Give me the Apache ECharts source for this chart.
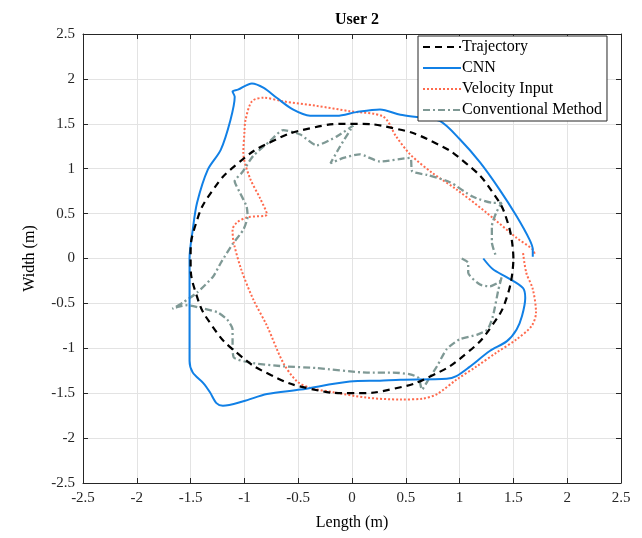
<!DOCTYPE html>
<html>
<head>
<meta charset="utf-8">
<script src="https://cdn.jsdelivr.net/npm/echarts@6/dist/echarts.min.js"></script>
<style>
  html, body { margin: 0; padding: 0; background: #fff; }
  #chart { width: 642px; height: 538px; }
</style>
</head>
<body>
<div id="chart"></div>
<script>
// tick labels
const xTicks = [-2.5, -2, -1.5, -1, -0.5, 0, 0.5, 1, 1.5, 2, 2.5];
const yTicks = [-2.5, -2, -1.5, -1, -0.5, 0, 0.5, 1, 1.5, 2, 2.5];

// reference trajectory (circle, radius ~1.5)
const trajectory = [
  [1.5, 0], [1.45, 0.39], [1.3, 0.75], [1.06, 1.06], [0.75, 1.3], [0.39, 1.45],
  [0, 1.5], [-0.39, 1.45], [-0.75, 1.3], [-1.06, 1.06], [-1.3, 0.75], [-1.45, 0.39],
  [-1.5, 0], [-1.45, -0.39], [-1.3, -0.75], [-1.06, -1.06], [-0.75, -1.3], [-0.39, -1.45],
  [0, -1.5], [0.39, -1.45], [0.75, -1.3], [1.06, -1.06], [1.3, -0.75], [1.45, -0.39],
  [1.5, 0]
];

const cnn = [
  [1.22, 0.0], [1.31, -0.12], [1.44, -0.21], [1.59, -0.33], [1.61, -0.44], [1.58, -0.64],
  [1.53, -0.79], [1.44, -0.92], [1.28, -1.03], [1.09, -1.21], [0.97, -1.31], [0.88, -1.34],
  [0.45, -1.35], [0.26, -1.36], [-0.02, -1.37], [-0.48, -1.46], [-0.79, -1.51], [-1.01, -1.59],
  [-1.2, -1.64], [-1.26, -1.61], [-1.32, -1.49], [-1.38, -1.39], [-1.48, -1.27], [-1.51, -1.14],
  [-1.51, -0.5], [-1.51, 0], [-1.48, 0.32], [-1.44, 0.62], [-1.34, 0.99], [-1.22, 1.21],
  [-1.13, 1.54], [-1.09, 1.8], [-1.11, 1.86], [-1.06, 1.88], [-0.93, 1.95], [-0.82, 1.9],
  [-0.7, 1.79], [-0.55, 1.66], [-0.39, 1.59], [-0.14, 1.59], [0.04, 1.63], [0.26, 1.66],
  [0.45, 1.6], [0.63, 1.57], [0.82, 1.53], [1.0, 1.33], [1.19, 1.07], [1.37, 0.77],
  [1.53, 0.47], [1.65, 0.21], [1.68, 0.1], [1.68, 0.02]
];

const velocityInput = [
  [1.59, 0.06], [1.62, -0.16], [1.68, -0.34], [1.71, -0.6], [1.67, -0.75], [1.53, -0.9],
  [1.34, -1.05], [1.16, -1.2], [0.97, -1.35], [0.79, -1.51], [0.66, -1.56], [0.45, -1.57],
  [0.14, -1.55], [-0.17, -1.49], [-0.39, -1.44], [-0.51, -1.37], [-0.64, -1.16], [-0.79, -0.75],
  [-0.92, -0.45], [-1.03, -0.12], [-1.1, 0.18], [-1.11, 0.32], [-1.07, 0.4], [-0.97, 0.46],
  [-0.79, 0.49], [-0.85, 0.66], [-0.95, 0.9], [-1.01, 1.18], [-1.0, 1.4], [-0.99, 1.54],
  [-0.93, 1.75], [-0.82, 1.79], [-0.64, 1.75], [-0.33, 1.7], [-0.02, 1.64], [0.29, 1.58],
  [0.41, 1.36], [0.54, 1.16], [0.75, 0.95], [0.97, 0.77], [1.25, 0.51], [1.53, 0.23],
  [1.68, 0.1], [1.7, 0.04]
];

const conventional = [
  [1.02, 0.0], [1.08, -0.05], [1.08, -0.16], [1.19, -0.29], [1.28, -0.31], [1.37, -0.26],
  [1.39, -0.21], [1.36, -0.35], [1.31, -0.64], [1.26, -0.79], [1.16, -0.85], [1.0, -0.9],
  [0.88, -1.01], [0.79, -1.2], [0.71, -1.35], [0.65, -1.46], [0.62, -1.33], [0.54, -1.29],
  [0.38, -1.27], [0.14, -1.27], [-0.33, -1.22], [-0.64, -1.2], [-0.95, -1.16], [-1.1, -1.1],
  [-1.11, -0.94], [-1.11, -0.79], [-1.16, -0.68], [-1.25, -0.6], [-1.41, -0.55], [-1.53, -0.52],
  [-1.62, -0.54], [-1.67, -0.56], [-1.57, -0.49], [-1.44, -0.38], [-1.29, -0.2], [-1.22, -0.05],
  [-1.11, 0.16], [-1.01, 0.32], [-0.97, 0.47], [-0.98, 0.58], [-1.04, 0.73], [-1.09, 0.86],
  [-1.02, 0.96], [-0.92, 1.14], [-0.76, 1.31], [-0.64, 1.43], [-0.48, 1.38], [-0.33, 1.26],
  [-0.14, 1.36], [0.01, 1.48], [-0.11, 1.25], [-0.2, 1.06], [-0.08, 1.12], [0.07, 1.16],
  [0.26, 1.08], [0.54, 1.12], [0.56, 0.97], [0.7, 0.93], [0.91, 0.85], [1.12, 0.69],
  [1.31, 0.62], [1.39, 0.62], [1.34, 0.51], [1.3, 0.36], [1.3, 0.18], [1.34, 0.02]
];

const serif = 'Liberation Serif';
const axisColor = '#262626';

const chart = echarts.init(document.getElementById('chart'));

const baseAxis = {
  type: 'value',
  min: -2.5,
  max: 2.5,
  interval: 0.5,
  axisLine: { show: true, onZero: false, lineStyle: { color: axisColor, width: 1 } },
  axisTick: { show: true, inside: true, length: 5, lineStyle: { color: axisColor } },
  splitLine: { show: false }
};

chart.setOption({
  backgroundColor: '#fff',
  animation: false,
  title: {
    text: 'User 2',
    left: 352,
    top: 7,
    textAlign: 'center',
    textStyle: { fontFamily: serif, fontWeight: 'bold', fontSize: 16, color: '#000' }
  },
  legend: {
    orient: 'vertical',
    left: 418,
    top: 36,
    padding: [3, 5, 3, 4],
    itemGap: 5,
    itemWidth: 38,
    itemHeight: 14,
    borderColor: axisColor,
    borderWidth: 1,
    backgroundColor: '#fff',
    itemStyle: { opacity: 0 },
    textStyle: { fontFamily: serif, fontSize: 16, color: '#000', lineHeight: 16, padding: [0, 0, 0, -4] },
    data: ['Trajectory', 'CNN', 'Velocity Input', 'Conventional Method']
  },
  grid: { left: 83, right: 21, top: 34, bottom: 55 },
  xAxis: [
    Object.assign({}, baseAxis, {
      position: 'bottom',
      name: 'Length (m)',
      nameLocation: 'middle',
      nameGap: 32,
      nameTextStyle: { fontFamily: serif, fontSize: 16, color: '#000' },
      splitLine: { show: true, lineStyle: { color: '#e3e3e3', width: 1 } },
      axisLabel: {
        fontFamily: serif, fontSize: 15, color: axisColor, margin: 8,
        formatter: v => String(xTicks.find(t => Math.abs(t - v) < 1e-9) ?? v)
      }
    }),
    Object.assign({}, baseAxis, { position: 'top', axisLabel: { show: false } })
  ],
  yAxis: [
    Object.assign({}, baseAxis, {
      position: 'left',
      name: 'Width (m)',
      nameLocation: 'middle',
      nameGap: 45,
      nameTextStyle: { fontFamily: serif, fontSize: 16, color: '#000' },
      splitLine: { show: true, lineStyle: { color: '#e3e3e3', width: 1 } },
      axisLabel: {
        fontFamily: serif, fontSize: 15, color: axisColor, margin: 8,
        formatter: v => String(yTicks.find(t => Math.abs(t - v) < 1e-9) ?? v)
      }
    }),
    Object.assign({}, baseAxis, { position: 'right', axisLabel: { show: false } })
  ],
  series: [
    {
      name: 'Trajectory', type: 'line', data: trajectory, smooth: 0.5,
      symbol: 'none', color: '#000', z: 4,
      lineStyle: { color: '#000', width: 2.2, type: [7, 5] }
    },
    {
      name: 'CNN', type: 'line', data: cnn, smooth: 0.3,
      symbol: 'none', color: '#1180E6', z: 3,
      lineStyle: { color: '#1180E6', width: 2 }
    },
    {
      name: 'Velocity Input', type: 'line', data: velocityInput, smooth: 0.3,
      symbol: 'none', color: '#FF6A4D', z: 2,
      lineStyle: { color: '#FF6A4D', width: 2, type: [2, 2] }
    },
    {
      name: 'Conventional Method', type: 'line', data: conventional, smooth: 0.2,
      symbol: 'none', color: '#7F9995', z: 2,
      lineStyle: { color: '#7F9995', width: 2.3, type: [7, 3, 2, 3] }
    }
  ]
});
</script>
</body>
</html>
